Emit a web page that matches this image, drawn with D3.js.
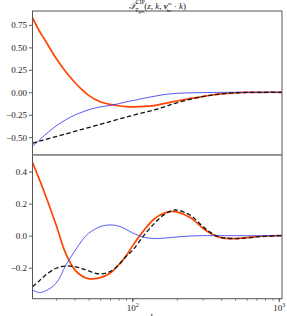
<!DOCTYPE html>
<html><head><meta charset="utf-8">
<script src="https://cdn.jsdelivr.net/npm/d3@7"></script>
<style>body{margin:0;background:#fff}svg{display:block}</style>
</head><body>
<script>
const kVals = [20.7,23,25,30,35,40,45,50,60,70,80,90,100,120,140,160,180,200,250,300,350,400,500,600,700,800,1000,1045];
const topOrange = [0.830,0.685,0.590,0.378,0.225,0.115,0.030,-0.035,-0.105,-0.135,-0.150,-0.159,-0.162,-0.158,-0.148,-0.130,-0.113,-0.097,-0.068,-0.047,-0.030,-0.018,-0.006,-0.002,-0.001,0,0,0];
const topBlue = [-0.600,-0.535,-0.480,-0.375,-0.305,-0.255,-0.222,-0.195,-0.163,-0.146,-0.128,-0.107,-0.093,-0.066,-0.045,-0.028,-0.018,-0.012,-0.006,-0.004,-0.002,-0.001,0,0,0,0,0,0];
const topDashed = [-0.566,-0.545,-0.529,-0.493,-0.463,-0.436,-0.413,-0.393,-0.357,-0.327,-0.300,-0.277,-0.257,-0.224,-0.196,-0.168,-0.140,-0.117,-0.075,-0.048,-0.030,-0.018,-0.006,-0.002,-0.001,0,0,0];
const botOrange = [0.457,0.353,0.268,0.067,-0.114,-0.210,-0.251,-0.268,-0.262,-0.234,-0.183,-0.126,-0.062,0.036,0.104,0.137,0.150,0.148,0.110,0.048,0.008,-0.012,-0.018,-0.012,-0.006,-0.002,0,0];
const botBlue = [-0.338,-0.355,-0.347,-0.297,-0.183,-0.099,-0.031,0.015,0.056,0.067,0.060,0.040,0.017,-0.010,-0.018,-0.016,-0.012,-0.008,-0.002,0,0,0,0,0,0,0,0,0];
const botDashed = [-0.318,-0.282,-0.251,-0.203,-0.189,-0.193,-0.205,-0.220,-0.239,-0.224,-0.183,-0.130,-0.090,0.005,0.075,0.125,0.152,0.160,0.125,0.058,0.012,-0.010,-0.018,-0.014,-0.008,-0.004,0,0];
const topTicks = [-0.5,-0.25,0,0.25,0.5,0.75];
const botTicks = [-0.2,0,0.2,0.4];
const xMajor = [100,1000];
const xMajorExp = ["2","3"];

const W=287,H=316;
const L=32.5,R=282;
const t1=11,b1=154.7,t2=154.7,b2=298.7;
const svg=d3.select("body").append("svg").attr("width",W).attr("height",H);
const x=d3.scaleLog().domain([20.7,1045]).range([L,R]);
const yT=d3.scaleLinear().domain([-0.695,0.905]).range([b1,t1]);
const yB=d3.scaleLinear().domain([-0.393,0.505]).range([b2,t2]);
const font="'Liberation Serif','DejaVu Serif',serif";
const minus=s=>s.replace("-","\u2212");

const defs=svg.append("defs");
defs.append("clipPath").attr("id","c1").append("rect").attr("x",L).attr("y",t1).attr("width",R-L).attr("height",b1-t1);
defs.append("clipPath").attr("id","c2").append("rect").attr("x",L).attr("y",t2).attr("width",R-L).attr("height",b2-t2);

function panel(y,clip,series,ticks,fmt){
  const g=svg.append("g").attr("clip-path",`url(#${clip})`);
  series.forEach(s=>{
    const line=d3.line().x((d,i)=>x(kVals[i])).y(d=>y(d)).curve(d3.curveCatmullRom.alpha(0.5));
    g.append("path").attr("d",line(s.v)).attr("fill","none").attr("stroke",s.c)
      .attr("stroke-width",s.w).attr("stroke-dasharray",s.dash||null);
  });
  const ax=svg.append("g").attr("transform",`translate(${L},0)`)
    .call(d3.axisLeft(y).tickValues(ticks).tickSize(3.5).tickPadding(2).tickFormat(d=>minus(fmt(d))));
  ax.select(".domain").remove();
  ax.selectAll(".tick line").attr("stroke","#333").attr("stroke-width",0.8);
  ax.selectAll(".tick text").attr("font-family",font).attr("font-size",9).attr("fill","#222");
}
const sT=[{v:topOrange,c:"#ff4500",w:1.7},{v:topBlue,c:"#4646f2",w:0.9},{v:topDashed,c:"#111",w:1.3,dash:"4.5,2.5"}];
const sB=[{v:botOrange,c:"#ff4500",w:1.7},{v:botBlue,c:"#4646f2",w:0.9},{v:botDashed,c:"#111",w:1.3,dash:"4.5,2.5"}];
panel(yT,"c1",sT,topTicks,d3.format(".2f"));
panel(yB,"c2",sB,botTicks,d3.format(".1f"));

// x axis bottom
const xa=svg.append("g").attr("transform",`translate(0,${b2})`)
  .call(d3.axisBottom(x).tickValues(x.ticks().filter(v=>v>=20.7)).tickSize(2).tickFormat(""));
xa.select(".domain").remove();
xa.selectAll(".tick line").attr("stroke","#333").attr("stroke-width",0.6);
xMajor.forEach((v,i)=>{
  svg.append("line").attr("x1",x(v)).attr("x2",x(v)).attr("y1",b2).attr("y2",b2+3.5).attr("stroke","#333").attr("stroke-width",0.8);
  const t=svg.append("text").attr("x",x(v)).attr("y",b2+12).attr("text-anchor","middle")
    .attr("font-family",font).attr("font-size",9).attr("fill","#222");
  t.append("tspan").text("10");
  t.append("tspan").attr("font-size",6).attr("dy",-4).text(xMajorExp[i]);
});

// frames
[[t1,b1],[t2,b2]].forEach(([a,b])=>{
  svg.append("rect").attr("x",L).attr("y",a).attr("width",R-L).attr("height",b-a)
    .attr("fill","none").attr("stroke","#555").attr("stroke-width",1);
});
svg.append("line").attr("x1",L).attr("x2",R).attr("y1",b1).attr("y2",b1).attr("stroke","#888").attr("stroke-width",1.4);

// title
const ti=svg.append("text").attr("x",(L+R)/2).attr("y",9).attr("text-anchor","middle")
  .attr("font-family",font).attr("font-size",9).attr("fill","#222");
ti.append("tspan").attr("font-style","italic").text("\uD835\uDCAF");
ti.append("tspan").attr("font-size",6).attr("dy",-5).text("CIP");
ti.append("tspan").attr("font-size",6).attr("dx",-10).attr("dy",8).attr("font-style","italic").text("T");
ti.append("tspan").attr("font-size",4.5).attr("dy",1).text("gas");
ti.append("tspan").attr("dy",-4).text("(");
ti.append("tspan").attr("font-style","italic").text("z");
ti.append("tspan").text(", ");
ti.append("tspan").attr("font-style","italic").text("k");
ti.append("tspan").text(", ");
ti.append("tspan").attr("font-style","italic").attr("font-weight","bold").text("v");
ti.append("tspan").attr("font-size",5).attr("dy",-4).text("m");
ti.append("tspan").attr("font-size",5).attr("dx",-5).attr("dy",7).text("bc");
ti.append("tspan").attr("dy",-3).text(" \u00B7 ");
ti.append("tspan").attr("font-style","italic").text("k");
ti.append("tspan").text(")");

// x label (clipped at bottom, as in the reference)
svg.append("text").attr("x",150).attr("y",321).attr("font-family",font).attr("font-style","italic")
  .attr("font-size",10).attr("fill","#222").text("k");
</script>
</body></html>
